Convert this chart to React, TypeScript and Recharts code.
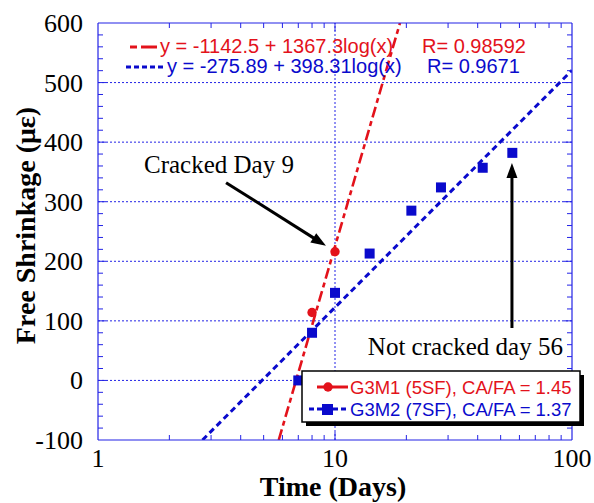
import React from 'react';
import {
  ComposedChart,
  XAxis,
  YAxis,
  Line,
  Scatter,
  ReferenceLine,
  ReferenceDot,
} from 'recharts';

// ---------- data ----------
const g3m1Days = [8, 10];
const g3m1Shrinkage = [114, 216];

const g3m2Days = [7, 8, 10, 14, 21, 28, 42, 56];
const g3m2Shrinkage = [0, 80, 147, 213, 285, 324, 357, 382];

const g3m1FitDays = [5.79, 18.8];
const g3m1FitShrinkage = [-100, 600];
const g3m2FitDays = [2.76, 100];
const g3m2FitShrinkage = [-100, 520.7];

const seriesNames = ['G3M1 (5SF), CA/FA = 1.45', 'G3M2 (7SF), CA/FA = 1.37'];
const fitEquations = ['y = -1142.5 + 1367.3log(x)', 'y = -275.89 + 398.31log(x)'];
const fitR = ['R= 0.98592', 'R= 0.9671'];

const xMajorTicks = [1, 10, 100];
const xTicks = [1, 2, 3, 4, 5, 6, 7, 8, 9, 10, 20, 30, 40, 50, 60, 70, 80, 90, 100];
const yMajorTicks = [-100, 0, 100, 200, 300, 400, 500, 600];
const yTicks = [
  -100, -80, -60, -40, -20, 0, 20, 40, 60, 80, 100, 120, 140, 160, 180, 200, 220, 240,
  260, 280, 300, 320, 340, 360, 380, 400, 420, 440, 460, 480, 500, 520, 540, 560, 580, 600,
];
const gridY = [0, 100, 200, 300, 400, 500];
const gridX = [10];

const crackedLabel = 'Cracked Day 9';
const notCrackedLabel = 'Not cracked day 56';

// ---------- styling ----------
const RED = '#e3121b';
const BLUE = '#0a0acc';
const FRAME = '#2323e6';
const SERIF = '"Liberation Serif", "Times New Roman", Times, serif';
const SANS = '"Liberation Sans", Arial, Helvetica, sans-serif';
const serifStyle = { fontFamily: SERIF };
const sansStyle = { fontFamily: SANS };

const toPts = (xs: number[], ys: number[]) => xs.map((x, i) => ({ x, y: ys[i] }));
const g3m1Data = toPts(g3m1Days, g3m1Shrinkage);
const g3m2Data = toPts(g3m2Days, g3m2Shrinkage);
const g3m1Fit = toPts(g3m1FitDays, g3m1FitShrinkage);
const g3m2Fit = toPts(g3m2FitDays, g3m2FitShrinkage);

const LEFT_MARGIN = 15;

const YTickLeft = (props: any) => {
  const { x, y, payload } = props;
  const v = payload.value;
  const major = yMajorTicks.includes(v);
  const ax = x + LEFT_MARGIN;
  const edge = v === -100 || v === 600;
  return (
    <g>
      {!edge && (
        <line x1={ax} x2={ax + (major ? 8 : 5)} y1={y} y2={y} stroke={FRAME} strokeWidth={1} />
      )}
      {major && (
        <text x={x} y={y + 9} textAnchor="end" style={serifStyle} fontSize={26} fill="#000">
          {v}
        </text>
      )}
    </g>
  );
};

const YTickRight = (props: any) => {
  const { x, y, payload } = props;
  const v = payload.value;
  const major = yMajorTicks.includes(v);
  const edge = v === -100 || v === 600;
  if (edge) return <g />;
  return <line x1={x} x2={x - (major ? 8 : 5)} y1={y} y2={y} stroke={FRAME} strokeWidth={1} />;
};

const XTickBottom = (props: any) => {
  const { x, y, payload } = props;
  const v = payload.value;
  const major = xMajorTicks.includes(v);
  const edge = v === 1 || v === 100;
  return (
    <g>
      {!edge && (
        <line x1={x} x2={x} y1={y} y2={y - (major ? 8 : 5)} stroke={FRAME} strokeWidth={1} />
      )}
      {major && (
        <text x={x} y={y + 27} textAnchor="middle" style={serifStyle} fontSize={26} fill="#000">
          {v}
        </text>
      )}
    </g>
  );
};

const XTickTop = (props: any) => {
  const { x, y, payload } = props;
  const v = payload.value;
  const major = xMajorTicks.includes(v);
  const edge = v === 1 || v === 100;
  if (edge) return <g />;
  return <line x1={x} x2={x} y1={y} y2={y + (major ? 8 : 5)} stroke={FRAME} strokeWidth={1} />;
};

const arrowShape = (p: any) => {
  const { x1, y1, x2, y2 } = p;
  const ang = Math.atan2(y2 - y1, x2 - x1);
  const L = 15;
  const W = 5.5;
  const bx = x2 - L * Math.cos(ang);
  const by = y2 - L * Math.sin(ang);
  const px = -Math.sin(ang) * W;
  const py = Math.cos(ang) * W;
  return (
    <g>
      <line
        x1={x1}
        y1={y1}
        x2={bx + 3 * Math.cos(ang)}
        y2={by + 3 * Math.sin(ang)}
        stroke="#000"
        strokeWidth={3}
      />
      <polygon
        points={`${x2},${y2} ${bx + px},${by + py} ${bx - px},${by - py}`}
        fill="#000"
      />
    </g>
  );
};

const textShape = (label: string) => (p: any) => (
  <text
    x={p.cx}
    y={p.cy + 8}
    textAnchor="middle"
    style={serifStyle}
    fontSize={25}
    fill="#000"
  >
    {label}
  </text>
);

const circleShape = (p: any) => <circle cx={p.cx} cy={p.cy} r={4.7} fill={RED} />;
const squareShape = (p: any) => (
  <rect x={p.cx - 5} y={p.cy - 5} width={10} height={10} fill={BLUE} />
);

const YTitle = (props: any) => {
  const vb = props.viewBox || { x: 0, y: 23, width: 98, height: 417 };
  const cx = vb.x + 35;
  const cy = vb.y + vb.height / 2 - 6;
  return (
    <text
      transform={`translate(${cx},${cy}) rotate(-90)`}
      textAnchor="middle"
      style={serifStyle}
      fontWeight="bold"
      fontSize={28}
      fill="#000"
    >
      Free Shrinkage (με)
    </text>
  );
};

const XTitle = (props: any) => {
  const vb = props.viewBox || { x: 98, y: 440, width: 474, height: 63 };
  return (
    <text
      x={vb.x + vb.width / 2 - 2}
      y={vb.y + 56}
      textAnchor="middle"
      style={serifStyle}
      fontWeight="bold"
      fontSize={28}
      fill="#000"
    >
      Time (Days)
    </text>
  );
};

const RED_DASH = '11 4 5 4';
const BLUE_DASH = '6 4';

export default function App() {
  return (
    <div style={{ position: 'absolute', left: 0, top: 0, width: 594, height: 503, background: '#fff' }}>
      <ComposedChart width={594} height={503} margin={{ top: 0, right: 0, bottom: 0, left: 0 }}>
        <XAxis
          dataKey="x"
          type="number"
          scale="log"
          domain={[1, 100]}
          allowDataOverflow
          ticks={xTicks}
          interval={0}
          tickLine={false}
          tickSize={0}
          tickMargin={0}
          height={63}
          axisLine={{ stroke: FRAME, strokeWidth: 1.2 }}
          tick={<XTickBottom />}
          label={{ content: (p: any) => <XTitle {...p} /> } as any}
        />
        <XAxis
          xAxisId="top"
          orientation="top"
          dataKey="x"
          type="number"
          scale="log"
          domain={[1, 100]}
          allowDataOverflow
          ticks={xTicks}
          interval={0}
          tickLine={false}
          tickSize={0}
          tickMargin={0}
          height={23}
          axisLine={{ stroke: FRAME, strokeWidth: 1.2 }}
          tick={<XTickTop />}
        />
        <YAxis
          dataKey="y"
          type="number"
          domain={[-100, 600]}
          allowDataOverflow
          ticks={yTicks}
          interval={0}
          tickLine={false}
          tickSize={0}
          tickMargin={LEFT_MARGIN}
          width={98}
          axisLine={{ stroke: FRAME, strokeWidth: 1.2 }}
          tick={<YTickLeft />}
          label={{ content: (p: any) => <YTitle {...p} /> } as any}
        />
        <YAxis
          yAxisId="right"
          orientation="right"
          type="number"
          domain={[-100, 600]}
          allowDataOverflow
          ticks={yTicks}
          interval={0}
          tickLine={false}
          tickSize={0}
          tickMargin={0}
          width={22}
          axisLine={{ stroke: FRAME, strokeWidth: 1.2 }}
          tick={<YTickRight />}
        />

        {gridY.map((v) => (
          <ReferenceLine key={'gy' + v} y={v} stroke={FRAME} strokeWidth={1} strokeDasharray="2 2" />
        ))}
        {gridX.map((v) => (
          <ReferenceLine key={'gx' + v} x={v} stroke={FRAME} strokeWidth={1} strokeDasharray="2 2" />
        ))}

        <Line
          data={g3m1Fit}
          dataKey="y"
          type="linear"
          stroke={RED}
          strokeWidth={2.6}
          strokeDasharray={RED_DASH}
          dot={false}
          activeDot={false}
          isAnimationActive={false}
          legendType="none"
        />
        <Line
          data={g3m2Fit}
          dataKey="y"
          type="linear"
          stroke={BLUE}
          strokeWidth={3}
          strokeDasharray={BLUE_DASH}
          dot={false}
          activeDot={false}
          isAnimationActive={false}
          legendType="none"
        />
        <Scatter
          name={seriesNames[0]}
          data={g3m1Data}
          dataKey="y"
          fill={RED}
          shape={circleShape}
          isAnimationActive={false}
        />
        <Scatter
          name={seriesNames[1]}
          data={g3m2Data}
          dataKey="y"
          fill={BLUE}
          shape={squareShape}
          isAnimationActive={false}
        />

        <ReferenceLine
          segment={[
            { x: 3.47, y: 332 },
            { x: 9.16, y: 226 },
          ]}
          shape={arrowShape}
        />
        <ReferenceLine
          segment={[
            { x: 55.8, y: 88 },
            { x: 55.8, y: 365 },
          ]}
          shape={arrowShape}
        />
        <ReferenceDot x={3.24} y={362} r={0} shape={textShape(crackedLabel)} />
        <ReferenceDot x={35.5} y={56.6} r={0} shape={textShape(notCrackedLabel)} />
      </ComposedChart>

      <svg
        width={594}
        height={503}
        style={{ position: 'absolute', left: 0, top: 0, pointerEvents: 'none' }}
      >
        {/* fit equations */}
        <line x1={130} x2={137} y1={47} y2={47} stroke={RED} strokeWidth={3} />
        <line x1={141} x2={157} y1={47} y2={47} stroke={RED} strokeWidth={3} />
        <text x={160} y={53} style={sansStyle} fontSize={20} fill={RED}>
          {fitEquations[0]}
        </text>
        <text x={422} y={53} style={sansStyle} fontSize={20} fill={RED}>
          {fitR[0]}
        </text>
        <line x1={126} x2={164} y1={67} y2={67} stroke={BLUE} strokeWidth={3} strokeDasharray="5 3" />
        <text x={167} y={73} style={sansStyle} fontSize={20} fill={BLUE}>
          {fitEquations[1]}
        </text>
        <text x={427} y={73} style={sansStyle} fontSize={20} fill={BLUE}>
          {fitR[1]}
        </text>

        {/* legend box */}
        <rect x={306} y={375} width={278} height={51} fill="#000" />
        <rect x={302} y={371} width={278} height={51} fill="#fff" stroke="#000" strokeWidth={1.5} />
        <line x1={317} x2={348} y1={387} y2={387} stroke={RED} strokeWidth={3} />
        <circle cx={328} cy={387} r={4.7} fill={RED} />
        <text x={350} y={394} style={sansStyle} fontSize={18.5} fill={RED}>
          {seriesNames[0]}
        </text>
        <line x1={309} x2={348} y1={409} y2={409} stroke={BLUE} strokeWidth={3} strokeDasharray="5 3" />
        <rect x={322} y={404} width={11} height={11} fill={BLUE} />
        <text x={350} y={416} style={sansStyle} fontSize={18.5} fill={BLUE}>
          {seriesNames[1]}
        </text>
      </svg>
    </div>
  );
}
